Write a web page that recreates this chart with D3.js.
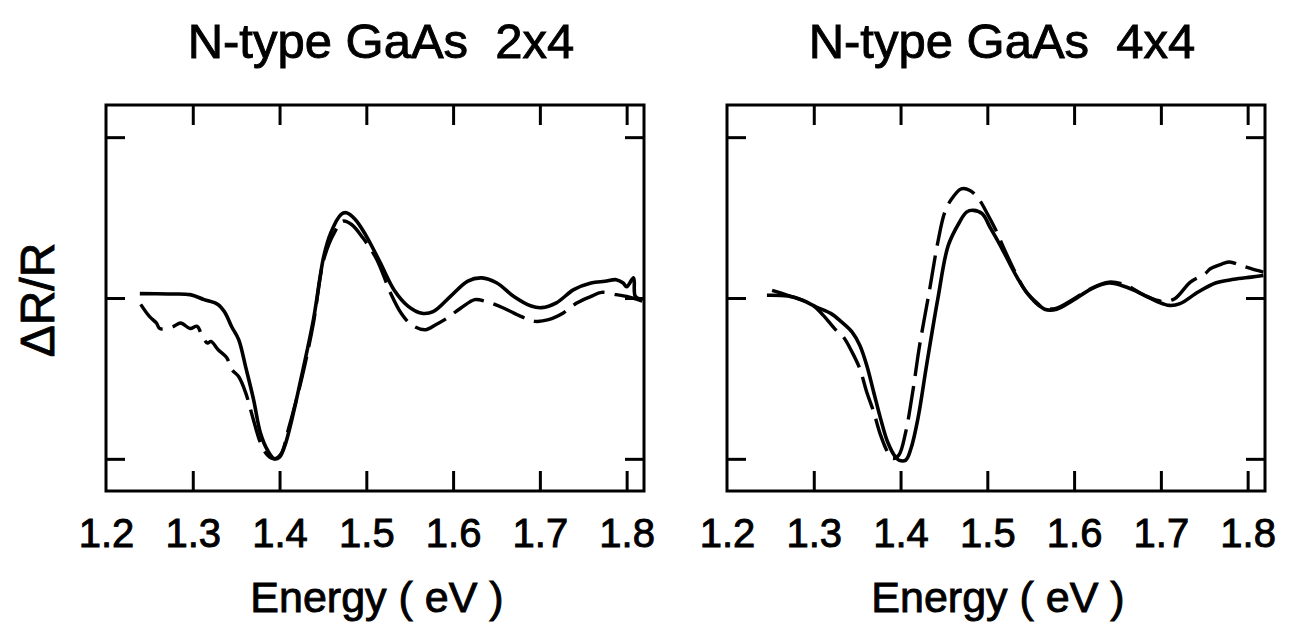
<!DOCTYPE html>
<html>
<head>
<meta charset="utf-8">
<script src="https://cdn.jsdelivr.net/npm/d3@7"></script>
<style>
  body { margin: 0; background: #fff; }
  text { font-family: "Liberation Sans", Arial, Helvetica, sans-serif; fill: #000; stroke: #000; stroke-width: 0.9px; }
</style>
</head>
<body>
<script>
// tick values and labels
const xTicks = [1.2, 1.3, 1.4, 1.5, 1.6, 1.7, 1.8];
const yTicks = [-1, 0, 1];
const titles = ["N-type GaAs  2x4", "N-type GaAs  4x4"];

// 2x4 panel, [energy eV, dR/R in tick units]
const solid2x4 = [
  [1.239, 0.027], [1.272, 0.025], [1.297, 0.021], [1.313, -0.01], [1.329, -0.04],
  [1.337, -0.09], [1.345, -0.18], [1.353, -0.26], [1.361, -0.43], [1.370, -0.63],
  [1.378, -0.84], [1.386, -0.945], [1.394, -1.0], [1.400, -0.99], [1.406, -0.92],
  [1.414, -0.76], [1.426, -0.47], [1.439, -0.135], [1.451, 0.26], [1.459, 0.405],
  [1.471, 0.52], [1.477, 0.53], [1.487, 0.49], [1.500, 0.385], [1.516, 0.22],
  [1.532, 0.05], [1.548, -0.05], [1.564, -0.095], [1.577, -0.085], [1.597, 0.01],
  [1.617, 0.105], [1.633, 0.125], [1.650, 0.095], [1.670, 0.01], [1.690, -0.05],
  [1.702, -0.06], [1.719, -0.03], [1.739, 0.052], [1.759, 0.093], [1.775, 0.104],
  [1.788, 0.114], [1.796, 0.093], [1.800, 0.07], [1.808, 0.125], [1.810, 0.01],
  [1.818, -0.01]
];
const dashed2x4 = [
  [1.240, -0.04], [1.250, -0.115], [1.258, -0.155], [1.262, -0.19], [1.272, -0.185],
  [1.278, -0.176], [1.286, -0.155], [1.297, -0.19], [1.305, -0.176], [1.311, -0.24],
  [1.317, -0.28], [1.321, -0.27], [1.329, -0.32], [1.339, -0.37], [1.345, -0.445],
  [1.353, -0.49], [1.361, -0.59], [1.370, -0.76], [1.378, -0.90], [1.386, -0.976],
  [1.394, -1.0], [1.402, -0.966], [1.410, -0.82], [1.426, -0.49], [1.439, -0.156],
  [1.451, 0.24], [1.463, 0.405], [1.473, 0.478], [1.483, 0.457], [1.496, 0.374],
  [1.512, 0.24], [1.528, 0.03], [1.540, -0.093], [1.552, -0.166], [1.568, -0.197],
  [1.580, -0.166], [1.593, -0.125], [1.609, -0.062], [1.625, -0.01], [1.637, -0.02],
  [1.658, -0.062], [1.678, -0.114], [1.694, -0.145], [1.710, -0.135], [1.727, -0.093],
  [1.743, -0.03], [1.759, 0.01], [1.771, 0.035], [1.788, 0.021], [1.800, 0.01],
  [1.818, -0.02]
];

// 4x4 panel
const solid4x4 = [
  [1.246, 0.017], [1.270, 0.012], [1.287, -0.014], [1.303, -0.056], [1.320, -0.097],
  [1.332, -0.149], [1.344, -0.211], [1.353, -0.294], [1.361, -0.418], [1.369, -0.584],
  [1.377, -0.75], [1.385, -0.894], [1.394, -0.988], [1.398, -1.008], [1.406, -1.008],
  [1.412, -0.936], [1.420, -0.75], [1.430, -0.418], [1.443, -0.004], [1.455, 0.327],
  [1.468, 0.472], [1.476, 0.534], [1.484, 0.545], [1.494, 0.524], [1.504, 0.431],
  [1.517, 0.306], [1.533, 0.141], [1.545, 0.037], [1.558, -0.035], [1.566, -0.07],
  [1.580, -0.07], [1.599, -0.014], [1.619, 0.054], [1.640, 0.093], [1.660, 0.068],
  [1.681, 0.017], [1.697, -0.025], [1.710, -0.046], [1.722, -0.035], [1.743, 0.037],
  [1.763, 0.093], [1.784, 0.116], [1.804, 0.13], [1.818, 0.14]
];
const dashed4x4 = [
  [1.252, 0.048], [1.270, 0.017], [1.287, -0.014], [1.299, -0.046], [1.311, -0.108],
  [1.324, -0.19], [1.334, -0.242], [1.344, -0.335], [1.353, -0.439], [1.361, -0.584],
  [1.369, -0.708], [1.377, -0.853], [1.385, -0.957], [1.391, -0.998], [1.398, -0.977],
  [1.406, -0.832], [1.414, -0.584], [1.422, -0.294], [1.433, 0.037], [1.443, 0.348],
  [1.451, 0.534], [1.459, 0.617], [1.470, 0.679], [1.480, 0.669], [1.490, 0.617],
  [1.500, 0.524], [1.509, 0.431], [1.521, 0.286], [1.533, 0.151], [1.545, 0.037],
  [1.562, -0.056], [1.578, -0.066], [1.599, -0.008], [1.619, 0.058], [1.640, 0.099],
  [1.660, 0.079], [1.681, 0.017], [1.701, -0.021], [1.716, -0.004], [1.734, 0.099],
  [1.751, 0.151], [1.757, 0.182], [1.771, 0.213], [1.779, 0.224], [1.792, 0.203],
  [1.804, 0.182], [1.818, 0.161]
];

const svg = d3.select("body")
  .append("svg")
    .attr("width", 1289)
    .attr("height", 628);

// frame size shared by both panels
const margin = {top: 105},
    width = 538,
    height = 386;

const x = d3.scaleLinear().domain([1.2, 1.82]).range([0, width]);
const y = d3.scaleLinear().domain([-1.2, 1.2]).range([height, 0]);

const line = d3.line()
    .x(d => x(d[0]))
    .y(d => y(d[1]))
    .curve(d3.curveCatmullRom.alpha(0.5));

function panel(left, title, solid, dashed) {
  const g = svg.append("g")
      .attr("transform", `translate(${left},${margin.top})`);

  // bottom axis: inward ticks + labels
  const bx = g.append("g")
      .attr("transform", `translate(0,${height})`)
      .call(d3.axisBottom(x).tickValues(xTicks).tickSize(-20).tickPadding(28)
        .tickFormat(d3.format(".1f")));
  // top axis: inward ticks only
  const tx = g.append("g")
      .call(d3.axisTop(x).tickValues(xTicks.slice(1)).tickSize(-20).tickFormat(""));
  const ly = g.append("g")
      .call(d3.axisLeft(y).tickValues(yTicks).tickSize(-19).tickFormat(""));
  const ry = g.append("g")
      .attr("transform", `translate(${width},0)`)
      .call(d3.axisRight(y).tickValues(yTicks).tickSize(-19).tickFormat(""));

  [bx, tx, ly, ry].forEach(a => {
    a.select(".domain").remove();
    a.selectAll("line").attr("stroke", "#000").attr("stroke-width", 3);
  });
  bx.select(".tick").select("line").remove();
  bx.selectAll("text")
      .attr("fill", "#000")
      .style("font-family", "'Liberation Sans', Arial, sans-serif")
      .style("font-size", "40px");

  g.append("rect")
      .attr("width", width)
      .attr("height", height)
      .attr("fill", "none")
      .attr("stroke", "#000")
      .attr("stroke-width", 3);

  g.append("path")
      .datum(dashed)
      .attr("fill", "none")
      .attr("stroke", "#000")
      .attr("stroke-width", 3.4)
      .attr("stroke-dasharray", "34,10")
      .attr("d", line);

  g.append("path")
      .datum(solid)
      .attr("fill", "none")
      .attr("stroke", "#000")
      .attr("stroke-width", 3.6)
      .attr("stroke-linejoin", "round")
      .attr("d", line);

  g.append("text")
      .attr("x", width / 2 + 6)
      .attr("y", -47)
      .attr("text-anchor", "middle")
      .style("white-space", "pre")
      .style("font-size", "49px")
      .text(title);

  g.append("text")
      .attr("x", width / 2 + 2)
      .attr("y", height + 121)
      .attr("text-anchor", "middle")
      .style("font-size", "43px")
      .text("Energy ( eV )");

  return g;
}

panel(106, titles[0], solid2x4, dashed2x4);
panel(727, titles[1], solid4x4, dashed4x4);

svg.append("text")
    .attr("transform", "translate(54,300) rotate(-90)")
    .attr("text-anchor", "middle")
    .style("font-size", "48px")
    .text("ΔR/R");
</script>
</body>
</html>
